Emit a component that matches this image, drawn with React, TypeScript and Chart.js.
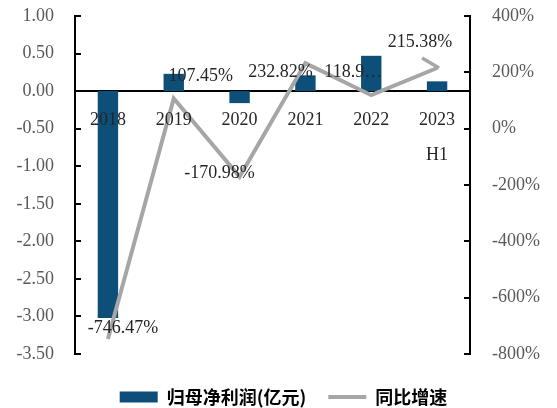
import React, { useEffect, useRef } from "react";
import { Chart, registerables } from "chart.js";

Chart.register(...registerables);

// ---- data ----
const categories: string[][] = [["2018"], ["2019"], ["2020"], ["2021"], ["2022"], ["2023", "H1"]];
const profit = [-3.02, 0.23, -0.16, 0.21, 0.47, 0.13]; // 归母净利润(亿元)
const growth = [-746.47, 107.45, -170.98, 232.82, 118.9, 215.38]; // 同比增速 (%)
const growthLabels = ["-746.47%", "107.45%", "-170.98%", "232.82%", "118.9…", "215.38%"];
const profitName = "归母净利润(亿元)";
const growthName = "同比增速";
const leftAxis = { min: -3.5, max: 1, step: 0.5 };
const rightAxis = { min: -800, max: 400, step: 200 };

// ---- styles ----
const BAR = "#0E4F79";
const LINE = "#A6A6A6";
const SERIF = "'Liberation Serif', 'Times New Roman', serif";
const CJK = "'Noto Sans CJK SC', sans-serif";
const labelOffsets = [[15, -11], [27, -22], [-20, -4], [-25, 9], [-18, -23], [-17, -26]];

const innerTicks = {
  id: "innerTicks",
  afterDraw(chart: any) {
    const ctx = chart.ctx;
    const { left, right } = chart.chartArea;
    ctx.save();
    ctx.strokeStyle = "#000";
    ctx.lineWidth = 2;
    const defs: [string, number, number][] = [["y", left, 1], ["y1", right, -1]];
    for (const [id, x0, dir] of defs) {
      const s = chart.scales[id];
      s.ticks.forEach((t: any) => {
        const y = Math.round(s.getPixelForValue(t.value));
        ctx.beginPath();
        ctx.moveTo(x0, y);
        ctx.lineTo(x0 + dir * 6, y);
        ctx.stroke();
      });
    }
    ctx.restore();
  },
};

const lineLabels = {
  id: "lineLabels",
  afterDraw(chart: any) {
    const ctx = chart.ctx;
    const meta = chart.getDatasetMeta(0);
    ctx.save();
    // leader line for the last label
    const last = meta.data[meta.data.length - 1];
    ctx.strokeStyle = LINE;
    ctx.lineWidth = 3.5;
    ctx.beginPath();
    ctx.moveTo(last.x - 15, last.y - 10);
    ctx.lineTo(last.x + 2, last.y);
    ctx.stroke();
    ctx.font = `18px ${SERIF}`;
    ctx.fillStyle = "#262626";
    ctx.textAlign = "center";
    ctx.textBaseline = "middle";
    meta.data.forEach((pt: any, i: number) => {
      const [dx, dy] = labelOffsets[i];
      ctx.fillText(growthLabels[i], pt.x + dx, pt.y + dy);
    });
    ctx.restore();
  },
};

const fitY = (w: number) => (s: any) => {
  s.width = w;
  s.paddingTop = 0;
  s.paddingBottom = 0;
};

export default function App() {
  const ref = useRef<HTMLCanvasElement>(null);
  useEffect(() => {
    if (!ref.current) return;
    const chart = new Chart(ref.current, {
      type: "bar",
      data: {
        labels: categories,
        datasets: [
          {
            type: "line",
            label: growthName,
            data: growth,
            yAxisID: "y1",
            borderColor: LINE,
            backgroundColor: LINE,
            borderWidth: 4,
            pointRadius: 0,
            tension: 0,
          } as any,
          {
            type: "bar",
            label: profitName,
            data: profit,
            yAxisID: "y",
            backgroundColor: BAR,
            barPercentage: 0.31,
            categoryPercentage: 1,
          },
        ],
      },
      options: {
        responsive: false,
        animation: false,
        layout: { padding: { top: 16, bottom: -8, left: 10, right: 0 } },
        scales: {
          x: {
            type: "category",
            position: { y: 0 } as any,
            offset: true,
            grid: { display: false, drawTicks: false },
            border: { color: "#000", width: 2 },
            ticks: {
              z: 1,
              font: { family: SERIF, size: 18, lineHeight: "35px" } as any,
              color: "#262626",
              padding: 12,
              maxRotation: 0,
              autoSkip: false,
            } as any,
          },
          y: {
            position: "left",
            min: leftAxis.min,
            max: leftAxis.max,
            afterFit: fitY(65),
            grid: { display: false, drawTicks: false },
            border: { color: "#000", width: 2 },
            ticks: {
              stepSize: leftAxis.step,
              font: { family: SERIF, size: 18 },
              color: "#595959",
              padding: 21,
              callback: (v: any) => Number(v).toFixed(2),
            },
          },
          y1: {
            position: "right",
            min: rightAxis.min,
            max: rightAxis.max,
            afterFit: fitY(87),
            grid: { display: false, drawTicks: false },
            border: { color: "#000", width: 2 },
            ticks: {
              stepSize: rightAxis.step,
              font: { family: SERIF, size: 18 },
              color: "#595959",
              padding: 22,
              callback: (v: any) => `${v}%`,
            },
          },
        },
        plugins: {
          tooltip: { enabled: false },
          subtitle: {
            display: true,
            position: "bottom",
            text: "",
            padding: 0,
            weight: 500,
            font: { size: 10, lineHeight: "12px" } as any,
          } as any,
          legend: {
            position: "bottom",
            labels: {
              usePointStyle: true,
              pointStyleWidth: 38,
              boxHeight: 11,
              padding: 22,
              color: "#000",
              font: { family: CJK, size: 18, weight: "bold" },
              generateLabels: (c: any) =>
                [1, 0].map((i) => {
                  const ds = c.data.datasets[i];
                  const isLine = ds.type === "line";
                  return {
                    text: ds.label,
                    fillStyle: isLine ? LINE : BAR,
                    strokeStyle: isLine ? LINE : BAR,
                    lineWidth: isLine ? 4 : 0,
                    pointStyle: isLine ? "line" : "rect",
                    datasetIndex: i,
                    hidden: false,
                  };
                }),
            },
          },
        },
      },
      plugins: [innerTicks, lineLabels],
    });
    return () => chart.destroy();
  }, []);
  return (
    <div style={{ position: "absolute", left: 0, top: 0, width: 557, height: 408, background: "#fff" }}>
      <canvas ref={ref} width={557} height={408} />
    </div>
  );
}
